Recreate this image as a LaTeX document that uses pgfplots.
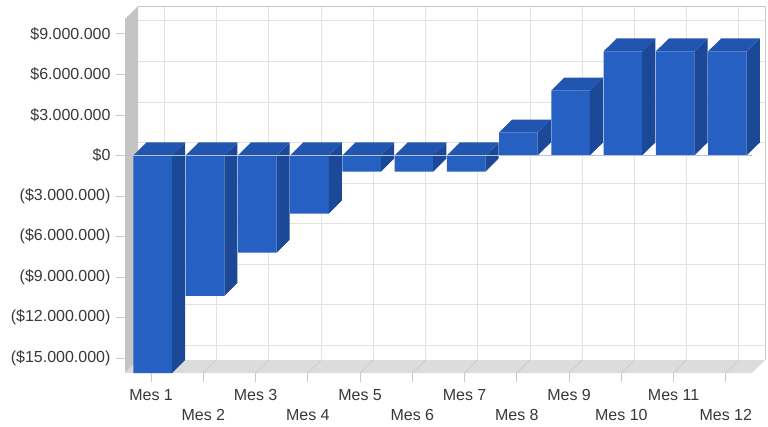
\documentclass[border=0pt]{standalone}
\usepackage{pgfplots}
\pgfplotsset{compat=1.18}
\usepackage{pgfplotstable}
\usepackage{fontspec}
\setmainfont{Liberation Sans}

\definecolor{barfront}{HTML}{2660C2}
\definecolor{bartop}{HTML}{2255B0}
\definecolor{barside}{HTML}{1C4898}
\definecolor{wallleft}{HTML}{C4C4C4}
\definecolor{floorc}{HTML}{DCDCDC}
\definecolor{floorline}{HTML}{CCCCCC}
\definecolor{gridc}{HTML}{E2E2E2}
\definecolor{framec}{HTML}{C8C8C8}
\definecolor{zeroc}{HTML}{B4C2DC}
\definecolor{labelc}{HTML}{383838}

% monthly cash flow, in millions of pesos
\pgfplotstableread{
mes val
1 -16.1
2 -10.4
3 -7.2
4 -4.3
5 -1.2
6 -1.2
7 -1.2
8 1.7
9 4.8
10 7.7
11 7.7
12 7.7
}\flujo

% depth of the 3D effect, in axis units
\def\dx{0.25}
\def\dy{0.96}

\begin{document}
\begin{tikzpicture}
\path[use as bounding box] (0,0) rectangle (768pt,426pt);
\begin{axis}[
  at={(125pt,53pt)}, anchor=south west,
  scale only axis, width=640pt, height=367pt,
  xmin=0.5, xmax=12.75, ymin=-16.1, ymax=11.06,
  clip=false,
  axis line style={draw=none},
  xtick pos=bottom, ytick pos=left,
  tick align=outside,
  major tick length=9pt,
  tick style={framec, line width=0.8pt},
  tick label style={font=\fontsize{16}{19}\selectfont, text=labelc},
  yticklabel style={xshift=-2pt},
  xticklabel style={yshift=-3.5pt},
  ytick={-15,-12,-9,-6,-3,0,3,6,9},
  yticklabels={(\$15.000.000),(\$12.000.000),(\$9.000.000),(\$6.000.000),(\$3.000.000),\$0,\$3.000.000,\$6.000.000,\$9.000.000},
  xtick={1,3,5,7,9,11},
  xticklabels={Mes 1,Mes 3,Mes 5,Mes 7,Mes 9,Mes 11},
  extra x ticks={2,4,6,8,10,12},
  extra x tick labels={Mes 2,Mes 4,Mes 6,Mes 8,Mes 10,Mes 12},
  extra x tick style={xticklabel style={yshift=-20.5pt}},
]
% back wall, side wall and floor
\addplot[fill=white, draw=none] coordinates {(0.75,-15.14) (12.75,-15.14) (12.75,11.06) (0.75,11.06)} -- cycle;
\pgfplotsinvokeforeach{-15,-12,...,9}{
  \pgfmathsetmacro\yg{#1+\dy}
  \addplot[gridc, line width=0.8pt] coordinates {(0.75,\yg) (12.75,\yg)};
}
\pgfplotsinvokeforeach{1,...,12}{
  \pgfmathsetmacro\xg{#1+\dx}
  \addplot[gridc, line width=0.8pt] coordinates {(\xg,-15.14) (\xg,11.06)};
}
\addplot[draw=framec, line width=0.8pt] coordinates {(0.75,11.06) (12.75,11.06) (12.75,-15.14)};
\addplot[fill=wallleft, draw=none] coordinates {(0.5,-16.1) (0.75,-15.14) (0.75,11.06) (0.5,10.1)} -- cycle;
\addplot[fill=floorc, draw=none] coordinates {(0.5,-16.1) (12.5,-16.1) (12.75,-15.14) (0.75,-15.14)} -- cycle;
\pgfplotsinvokeforeach{1,...,12}{
  \pgfmathsetmacro\xg{#1+\dx}
  \addplot[floorline, line width=0.8pt] coordinates {(#1,-16.1) (\xg,-15.14)};
}
% front faces of the bars
\addplot[ybar, bar width=0.74, bar shift=0.03, fill=barfront, draw=none] table[x=mes, y=val] {\flujo};
% side and top faces
\pgfplotsinvokeforeach{0,...,11}{
  \pgfplotstablegetelem{#1}{val}\of\flujo
  \pgfmathsetmacro\bv{\pgfplotsretval}
  \pgfmathsetmacro\xl{#1+1-0.34}
  \pgfmathsetmacro\xr{#1+1+0.40}
  \pgfmathsetmacro\xlb{\xl+\dx}
  \pgfmathsetmacro\xrb{\xr+\dx}
  \pgfmathsetmacro\yt{max(\bv,0)}
  \pgfmathsetmacro\yb{min(\bv,0)}
  \pgfmathsetmacro\ytb{\yt+\dy}
  \pgfmathsetmacro\ybb{\yb+\dy}
  \addplot[fill=barside, draw=none] coordinates {(\xr,\yb) (\xr,\yt) (\xrb,\ytb) (\xrb,\ybb)} -- cycle;
  \addplot[fill=bartop, draw=none] coordinates {(\xl,\yt) (\xr,\yt) (\xrb,\ytb) (\xlb,\ytb)} -- cycle;
}
% zero line
\addplot[zeroc, line width=1pt] coordinates {(0.5,0) (12.5,0)};
\end{axis}
\end{tikzpicture}
\end{document}
